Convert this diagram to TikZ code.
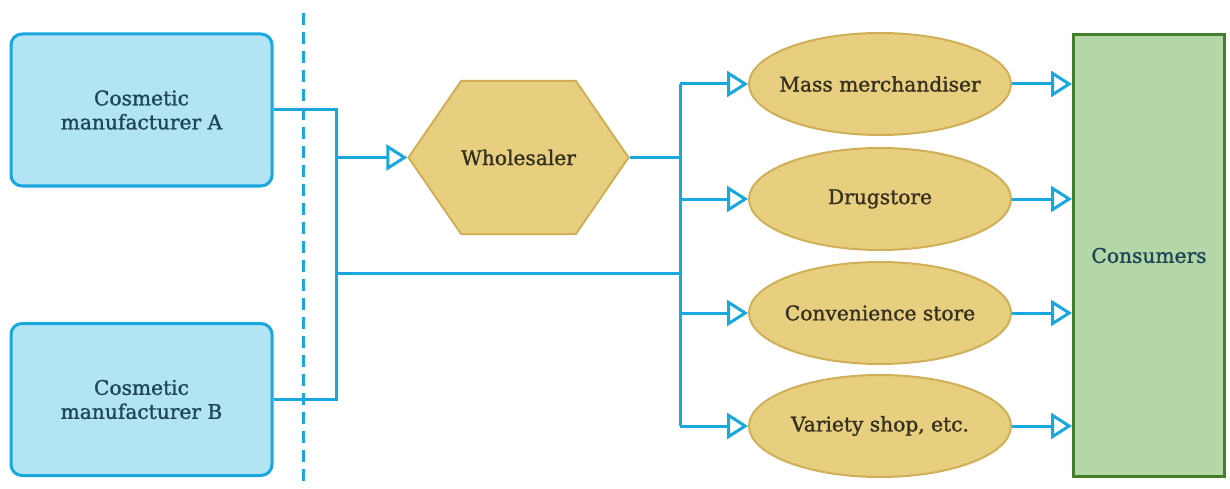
\documentclass[tikz,border=0pt]{standalone}
\usepackage{fontspec}
\setmainfont{DejaVu Serif}[FakeBold=1.2]
\usetikzlibrary{arrows.meta,shapes.geometric,shapes.symbols}
\definecolor{wire}{HTML}{1AA7DE}
\definecolor{mkfill}{HTML}{B2E4F4}
\definecolor{mktext}{HTML}{1B4656}
\definecolor{shopfill}{HTML}{E8CE7F}
\definecolor{shopline}{HTML}{CFAF58}
\definecolor{shoptext}{HTML}{33301F}
\definecolor{usrfill}{HTML}{B5D6A6}
\definecolor{usrline}{HTML}{437E2A}
\begin{document}
\begin{tikzpicture}[x=1pt,y=1pt,
  font=\fontsize{20.2}{24}\selectfont,
  maker/.style={draw=wire,line width=3pt,fill=mkfill,rounded corners=11pt,
    minimum width=261pt,minimum height=152pt,align=center,text=mktext},
  hexa/.style={signal,signal to=west and east,signal pointer angle=111,
    draw=shopline,line width=2pt,fill=shopfill,minimum width=213pt,
    minimum height=153pt,text=shoptext,inner sep=0pt},
  shop/.style={ellipse,draw=shopline,line width=2pt,fill=shopfill,
    minimum width=262pt,minimum height=102pt,text=shoptext,
    inner xsep=-40pt,inner ysep=0pt},
  buyer/.style={draw=usrline,line width=3pt,fill=usrfill,
    minimum width=151pt,minimum height=442pt,text=mktext},
  link/.style={draw=wire,line width=3pt},
  flow/.style={link,-{Triangle[open,length=21pt,width=26pt]}},
  split/.style={draw=wire,line width=3pt,dash pattern=on 12pt off 7pt}]
\useasboundingbox (0,0) rectangle (1230,488);
% makers and the dashed border
\node[maker] (mkA) at (141.5,378) {Cosmetic\\manufacturer A};
\node[maker] (mkB) at (141.5,88.5) {Cosmetic\\manufacturer B};
\draw[split] (303,475) -- (303,0);
% wholesaler, shops and consumers
\node[hexa] (whole) at (518.5,330.5) {Wholesaler};
\node[shop] (mass) at (880,404) {Mass merchandiser};
\node[shop] (drug) at (880,289) {Drugstore};
\node[shop] (conv) at (880,175) {Convenience store};
\node[shop] (vari) at (880,62) {Variety shop, etc.};
\node[buyer] (cons) at (1149,232.5) {Consumers};
\coordinate (trunk) at (336,0);
\coordinate (bus) at (680,0);
\coordinate (direct) at (336,215);
\draw[link] (mkA.east) -- (mkA.east -| trunk) -- (mkB.east -| trunk) -- (mkB.east);
\draw[flow] (whole.west -| trunk) -- (whole.west);
\draw[link] (direct) -- (direct -| bus);
\draw[link] (whole.east) -- (whole.east -| bus);
\draw[link] (mass.west -| bus) -- (vari.west -| bus);
\foreach \s in {mass,drug,conv,vari}{
  \draw[flow] (\s.west -| bus) -- (\s.west);
  \draw[flow] (\s.east) -- (\s.east -| cons.west);
}
\end{tikzpicture}
\end{document}
